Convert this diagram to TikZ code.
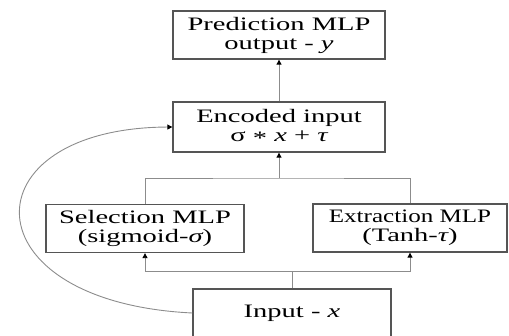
\documentclass[tikz,border=0pt]{standalone}
\usepackage{fontspec}
\setmainfont{Liberation Serif}[FakeStretch=1.5]
\newfontfamily\extfont{Liberation Serif}[FakeStretch=1.32]
\usetikzlibrary{arrows.meta}
\definecolor{boxgray}{HTML}{555555}
\definecolor{linegray}{HTML}{8C8C8C}
\begin{document}
\begin{tikzpicture}[x=1pt,y=-1pt,
  box/.style={draw=boxgray, line width=1.3pt, fill=white, minimum height=48pt, inner sep=0pt, align=center, font=\fontsize{19}{19}\selectfont, text=black},
  conn/.style={draw=linegray, line width=0.9pt},
  arr/.style={conn, -{Triangle[length=5pt,width=5pt,color=black]}}]
\useasboundingbox (0,0) rectangle (509,335);
\clip (0,0) rectangle (509,335);
\node[box, minimum width=212pt] (pred) at (279,35) {Prediction MLP\\output - {\itshape y}};
\node[box, minimum width=212pt, minimum height=50pt] (enc) at (279,127) {Encoded input\\σ~\raisebox{-0.3ex}{*}~{\itshape x}~+~{\itshape τ}};
\node[box, minimum width=198pt] (sel) at (145,228.5) {Selection MLP\\(sigmoid-{\itshape σ})};
\node[box, minimum width=194pt] (ext) at (410,228) {{\extfont Extraction MLP}\\(Tanh-{\itshape τ})};
\node[box, minimum width=198pt] (inp) at (292,313) {Input - {\itshape x}};
\coordinate (tb) at (279,178);
\coordinate (bb) at (292,271);
\draw[arr] (enc.north) -- (pred.south);
\draw[conn] (sel.north) |- (tb) -| (ext.north);
\draw[arr] (tb) -- (enc.south);
\draw[conn] (inp.north) -- (bb);
\draw[arr] (bb) -| (sel.south);
\draw[arr] (bb) -| (ext.south);
\draw[arr] (inp.west) .. controls (-34,302) and (-34,128) .. (enc.west);
\end{tikzpicture}
\end{document}
